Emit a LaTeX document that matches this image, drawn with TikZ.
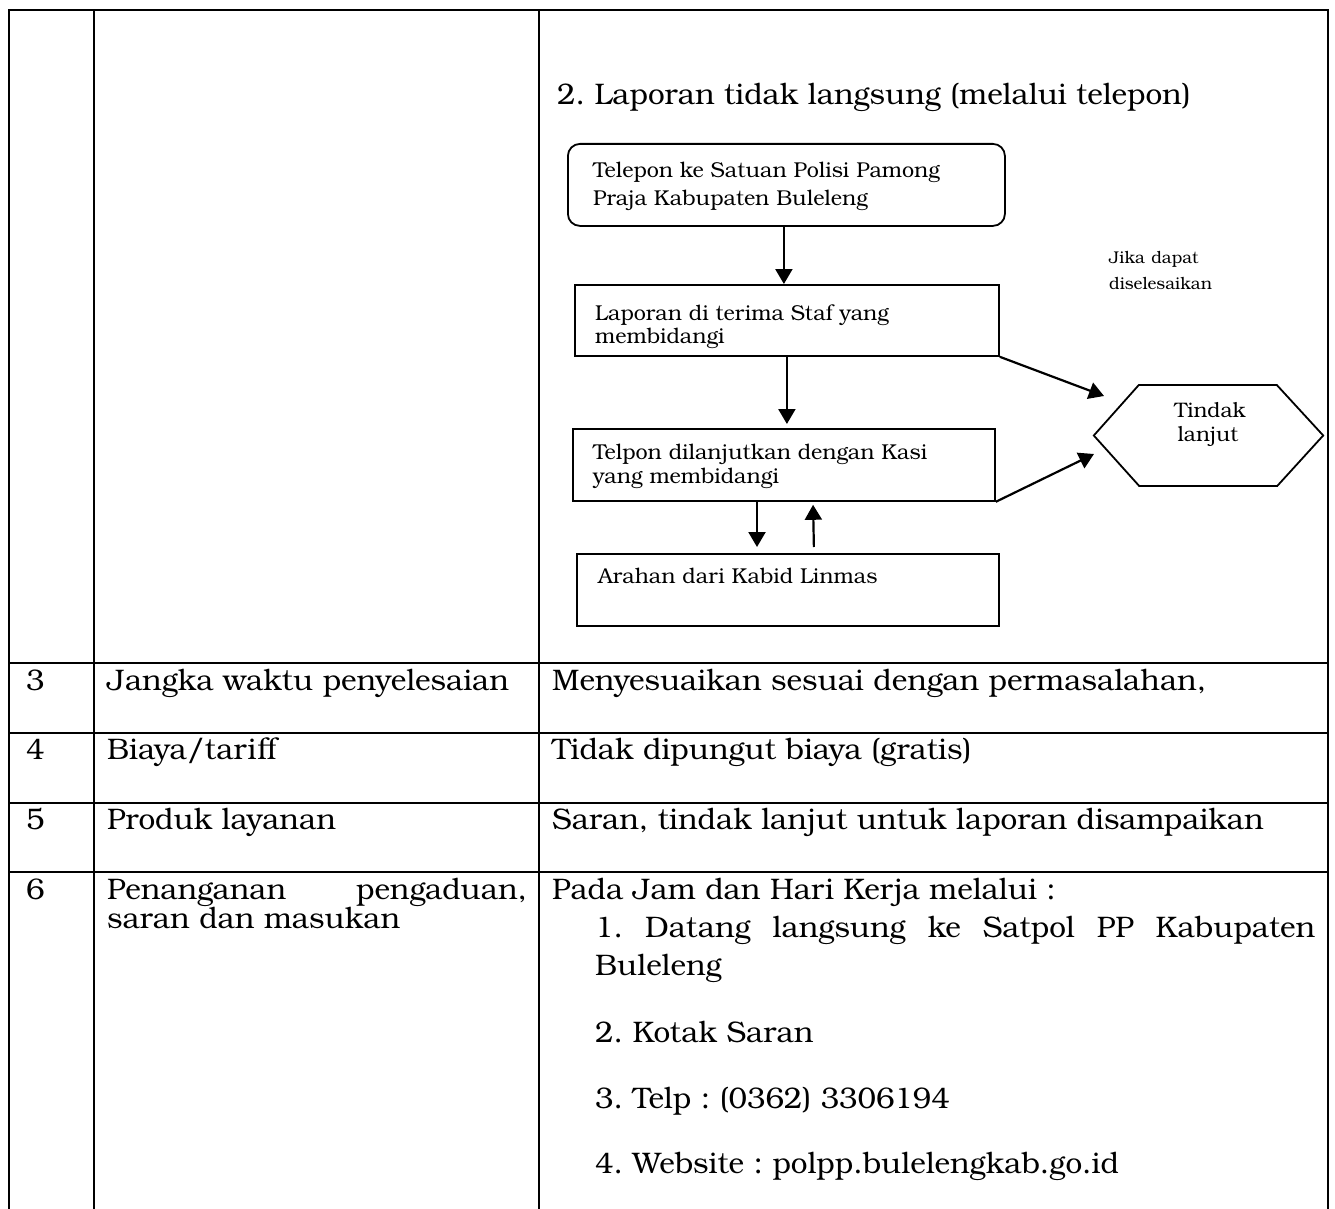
\documentclass[tikz,border=0pt]{standalone}
\usepackage{fontspec}
\setmainfont{TeX Gyre Bonum}
\usetikzlibrary{arrows.meta}
\frenchspacing
\begin{document}
\begin{tikzpicture}[x=1pt,y=-1pt,
  tl/.style={line width=2pt, line join=miter},
  box/.style={draw, line width=1.8pt, anchor=north west, inner sep=0pt},
  arr/.style={line width=2.2pt, -{Triangle[length=15pt,width=17pt]}},
  ft/.style={anchor=base west, inner sep=0pt, font=\fontsize{21.5}{26}\selectfont},
  lab/.style={anchor=base west, inner sep=0pt, font=\fontsize{17}{21}\selectfont},
  hx/.style={anchor=base, inner sep=0pt, font=\fontsize{21}{25}\selectfont},
  tt/.style={anchor=base west, inner sep=0pt, font=\fontsize{29.7}{36}\selectfont}]
\useasboundingbox (0,0) rectangle (1335,1209);
\fill[white] (0,0) rectangle (1335,1209);

% table grid
\draw[tl] (9,1209) -- (9,10) -- (1328,10) -- (1328,1209);
\draw[tl] (94,10) -- (94,1209);
\draw[tl] (539,10) -- (539,1209);
\draw[tl] (9,663) -- (1328,663);
\draw[tl] (9,733) -- (1328,733);
\draw[tl] (9,803) -- (1328,803);
\draw[tl] (9,872) -- (1328,872);

% flowchart title
\node[tt] (title) at (557,105) {2. Laporan tidak langsung (melalui telepon)};

% boxes
\node[box, rounded corners=12pt, minimum width=437pt, minimum height=82pt] (b1) at (567,143) {};
\node[box, minimum width=424pt, minimum height=71pt] (b2) at (574,284) {};
\node[box, minimum width=422pt, minimum height=72pt] (b3) at (572,428) {};
\node[box, minimum width=422pt, minimum height=72pt] (b4) at (576,553) {};

\node[ft] (b1t1) at (593,178) {Telepon ke Satuan Polisi Pamong};
\node[ft] (b1t2) at (593,205) {Praja Kabupaten Buleleng};
\node[ft] (b2t1) at (595,320) {Laporan di terima Staf yang};
\node[ft] (b2t2) at (595,343) {membidangi};
\node[ft] (b3t1) at (593,459) {Telpon dilanjutkan dengan Kasi};
\node[ft] (b3t2) at (593,483) {yang membidangi};
\node[ft] (b4t1) at (598,583) {Arahan dari Kabid Linmas};

% hexagon
\node[inner sep=0pt, minimum width=229pt, minimum height=101pt] (hex) at (1208.5,435.5) {};
\draw[line width=1.8pt, line join=miter] (hex.west) -- ++(45,-50.5) -- ++(138,0) -- (hex.east) -- ++(-46,50.5) -- ++(-138,0) -- cycle;
\node[hx] (hxt1) at (1210,417) {Tindak};
\node[hx] (hxt2) at (1208,441) {lanjut};

% label
\node[lab] (l1) at (1109,263) {Jika\hspace{1pt} dapat};
\node[lab] (l2) at (1109,289) {diselesaikan};

% arrows
\coordinate (t5) at (1104,396);
\coordinate (t6) at (1094,454);
\draw[arr] ([xshift=-2.5pt]b1.south) -- ([xshift=-2.5pt]b1.south |- b2.north);
\draw[arr, shorten >=4pt] (b2.south) -- (b2.south |- b3.north);
\draw[arr, shorten >=6pt] ([xshift=185pt]b3.south west) -- ([xshift=185pt]b3.south west |- b4.north);
\draw[arr, shorten <=6pt, shorten >=3pt] ([xshift=242pt]b3.south west |- b4.north) -- ([xshift=241pt]b3.south west);
\draw[arr] (b2.south east) -- (t5);
\draw[arr] (b3.south east) -- (t6);

% table rows
\node[tt] (r3a) at (26,690) {3};
\node[tt] (r3b) at (107,690) {Jangka waktu penyelesaian};
\node[tt] (r3c) at (552,690) {Menyesuaikan sesuai dengan permasalahan,};
\node[tt] (r4a) at (26,759) {4};
\node[tt] (r4b) at (107,759) {Biaya/tariff};
\node[tt] (r4c) at (552,759) {Tidak dipungut biaya (gratis)};
\node[tt] (r5a) at (26,829) {5};
\node[tt] (r5b) at (107,829) {Produk layanan};
\node[tt] (r5c) at (552,829) {Saran, tindak lanjut untuk laporan disampaikan};
\node[tt] (r6a) at (26,899) {6};
\node[tt] (r6b) at (107,899) {\makebox[420pt][s]{Penanganan pengaduan,}};
\node[tt] (r6b2) at (107,928) {saran dan masukan};
\node[tt] (r6c) at (552,899) {Pada Jam dan Hari Kerja melalui :};
\node[tt] (r6c1) at (595,937) {\makebox[720pt][s]{1. Datang langsung ke Satpol PP Kabupaten}};
\node[tt] (r6c2) at (595,975) {Buleleng};
\node[tt] (r6c3) at (595,1042) {2. Kotak Saran};
\node[tt] (r6c4) at (595,1108) {3. Telp : (0362) 3306194};
\node[tt] (r6c5) at (595,1173) {4. Website : polpp.bulelengkab.go.id};
\end{tikzpicture}
\end{document}
